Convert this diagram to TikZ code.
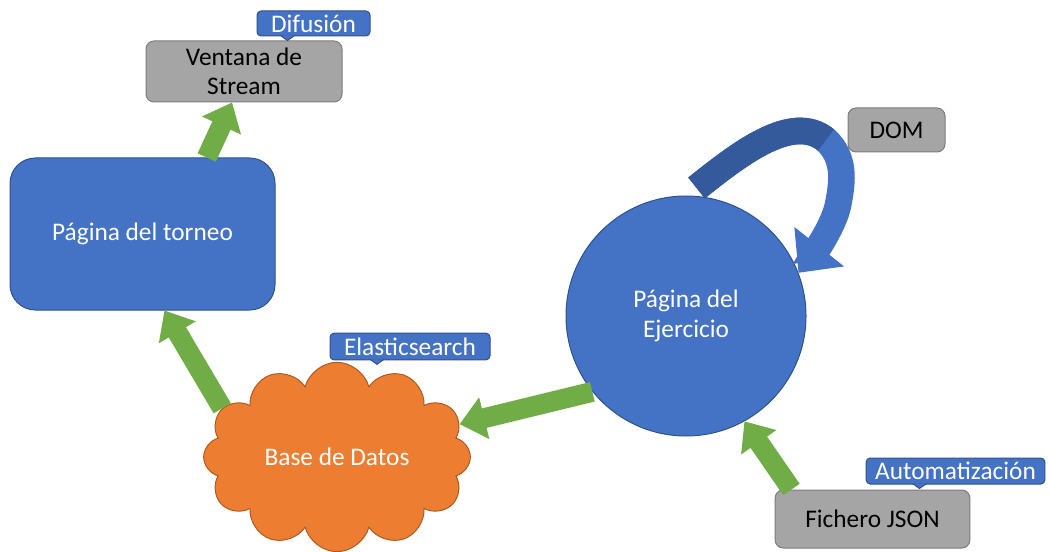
\documentclass[tikz,border=0pt]{standalone}
\usepackage{fontspec}
\setmainfont{Carlito}
\usetikzlibrary{calc,arrows.meta,shapes.symbols}
\definecolor{ofblue}{HTML}{4472C4}
\definecolor{ofblueline}{HTML}{2F528F}
\definecolor{ofdark}{HTML}{345A9C}
\definecolor{ofgray}{HTML}{A5A5A5}
\definecolor{ofgrayline}{HTML}{7C7C7C}
\definecolor{oforange}{HTML}{ED7D31}
\definecolor{oforangeline}{HTML}{AE5A21}
\definecolor{ofgreen}{HTML}{70AD47}

\begin{document}
\begin{tikzpicture}[x=0.75pt, y=-0.75pt,
	every node/.style={font=\fontsize{19}{22}\selectfont, inner sep=0pt},
	bluebox/.style={draw=ofblueline, fill=ofblue, text=white, rounded corners=19pt, line width=0.75pt},
	graybox/.style={draw=ofgrayline, fill=ofgray, rounded corners=6pt, align=center, line width=0.75pt},
	tag/.style={draw=ofblueline, fill=ofblue, text=white, rounded corners=3pt, line width=0.75pt},
	tagtail/.style={draw=ofblueline, fill=ofblue, line width=0.75pt},
	flecha/.style={ofgreen, line width=15pt, -{Triangle[length=19pt,width=31pt]}}]
		\useasboundingbox (0,0) rectangle (1049,552);
		\node[bluebox, minimum width=198.75pt, minimum height=114pt] (torneo) at (142.5,234) {Página del torneo};
		\node[graybox, minimum width=147pt, minimum height=45.75pt] (stream) at (244,71.5) {Ventana de\\Stream};
		\node[tag, minimum width=84.75pt, minimum height=18.75pt] (difusion) at (313.5,23.5) {Difusión};
		\filldraw[tagtail] ($(difusion.south)+(-33,-1)$) -- ++(7,5) -- ++(7,-5);
		\node[circle, draw=ofblueline, fill=ofblue, text=white, minimum size=180pt, align=center, line width=0.75pt] (ejercicio) at (686,316) {Página del\\Ejercicio};
		\node[graybox, minimum width=72.75pt, minimum height=33pt] (dom) at (896.5,130) {DOM};
		\node[cloud, cloud puffs=12, aspect=1.4, draw=oforangeline, fill=oforange, text=white, minimum width=200pt, minimum height=142pt, line width=0.75pt] (datos) at (337,457) {Base de Datos};
		\node[tag, minimum width=120pt, minimum height=20pt] (elastic) at (410,346.5) {Elasticsearch};
		\filldraw[tagtail] ($(elastic.south)+(-40,-1)$) -- ++(7,5) -- ++(7,-5);
		\node[graybox, minimum width=146pt, minimum height=43.5pt] (json) at (872.5,519) {Fichero JSON};
		\node[tag, minimum width=134pt, minimum height=19.5pt] (automat) at (955.5,471) {Automatización};
		\filldraw[tagtail] ($(automat.south)+(-43,-1)$) -- ++(7,5) -- ++(7,-5);

		\draw[flecha] (torneo.50) -- (stream.249);
		\draw[flecha] (datos.157) -- (torneo.286);
		\draw[flecha] (ejercicio.219) -- (datos.15);
		\draw[flecha] (json.160) -- (ejercicio.299);

		\coordinate (domtail) at ($(ejercicio.85)+(0,-8)$);
		\coordinate (domtop) at (826,140);
		\draw[ofblue, line width=20pt, -{Triangle[length=25pt,width=46pt]}] (domtail) .. controls (738,155) and (792,112) .. (domtop) .. controls (845,158) and (843,180) .. (838,205) .. controls (834,225) and (815,252) .. (ejercicio.21);
		\draw[ofdark, line width=20pt] (domtail) .. controls (738,155) and (792,112) .. (domtop);
	\end{tikzpicture}
\end{document}
